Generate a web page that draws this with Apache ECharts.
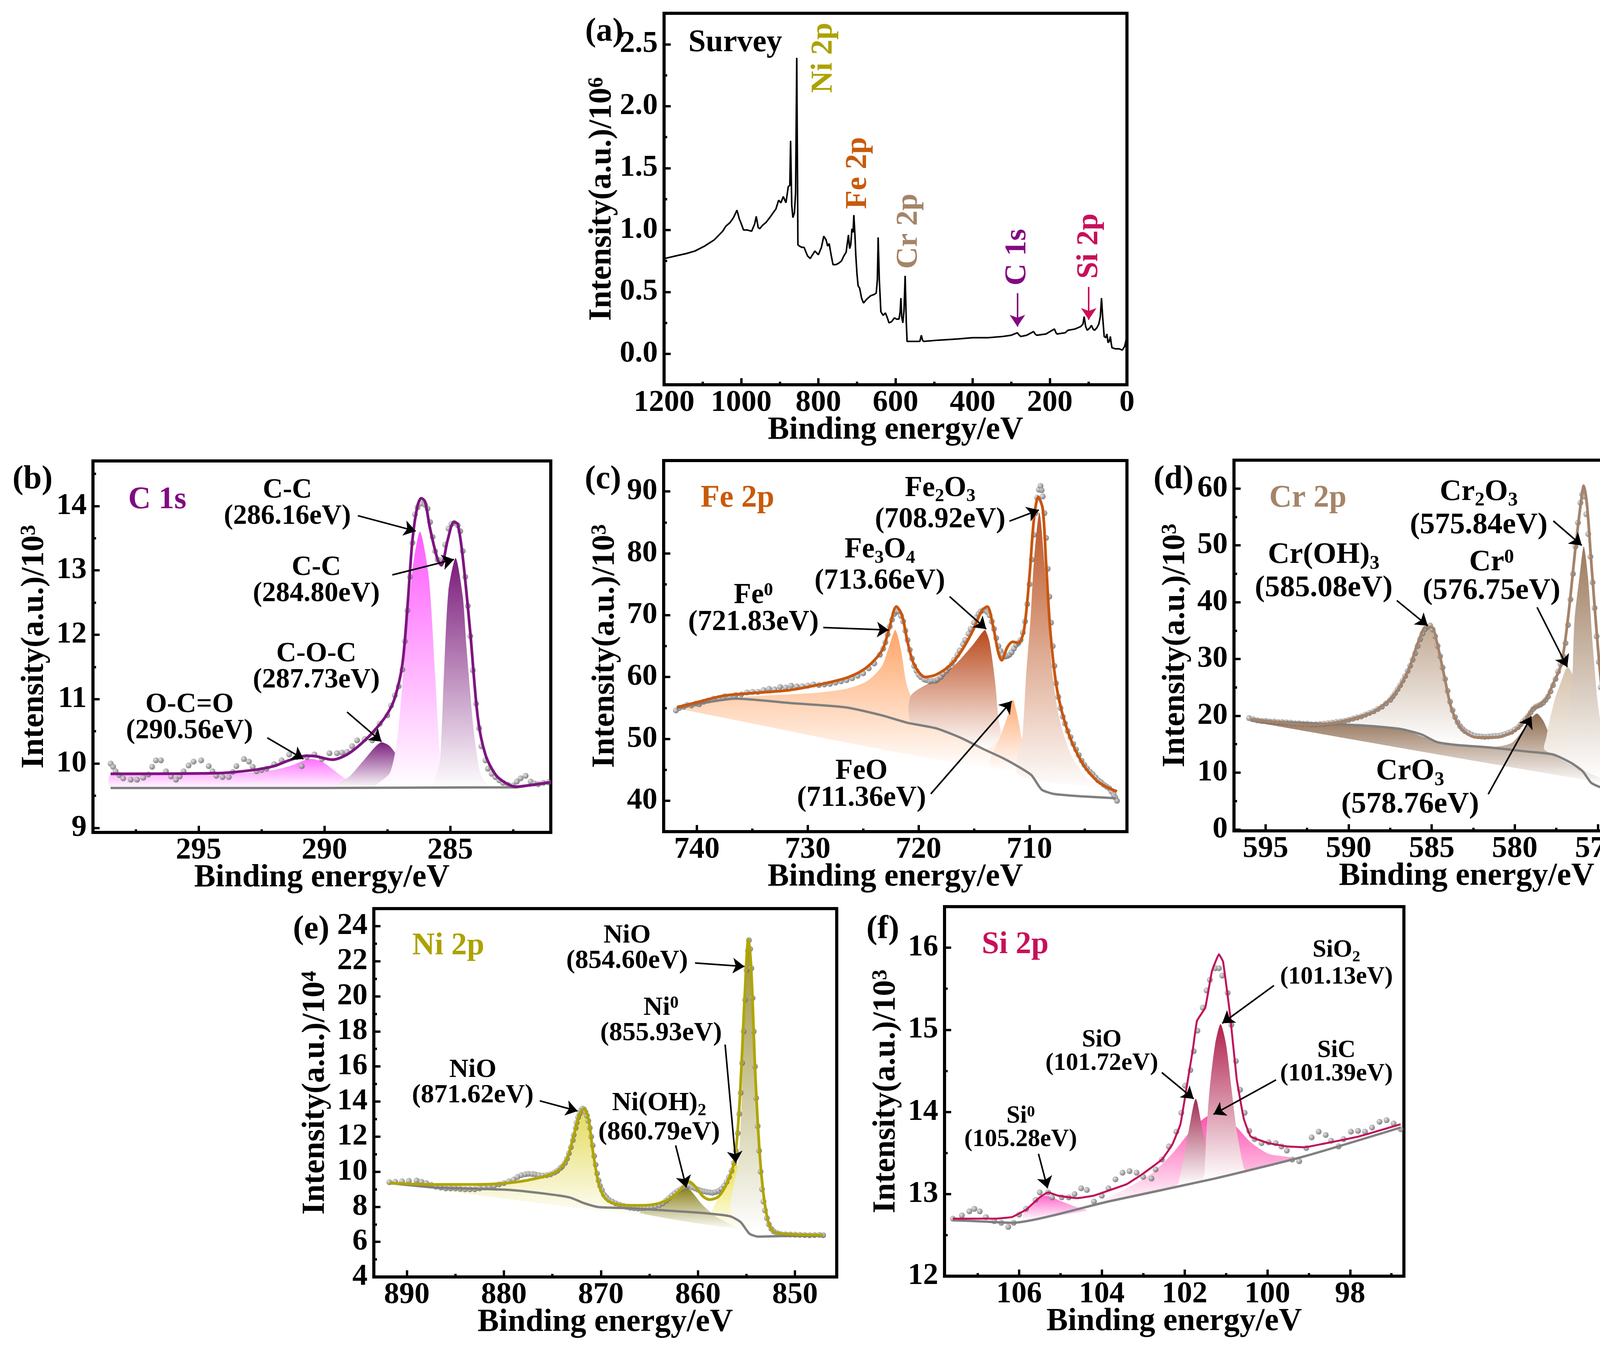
<!DOCTYPE html>
<html>
<head>
<meta charset="utf-8">
<script src="https://cdn.jsdelivr.net/npm/echarts@6/dist/echarts.min.js"></script>
<style>
html, body { margin: 0; padding: 0; background: #fff; }
#chart { width: 4386px; height: 3456px; }
</style>
</head>
<body>
<div id="chart"></div>
<script>
const FONT = 'Liberation Serif';

// ---------- (a) survey ----------
const surveyData = [[1198,0.77],[1170,0.79],[1142,0.81],[1120,0.83],[1095,0.87],[1070,0.92],[1048,0.99],[1040,1.03],[1029,1.06],[1020,1.10],[1011,1.16],[1005,1.09],[1001,1.06],[994,1.0],[985,1.0],[973,0.99],[965,1.05],[961,1.11],[956,1.02],[952,1.01],[944,1.04],[936,1.06],[926,1.10],[917,1.14],[910,1.17],[903,1.24],[897,1.22],[891,1.27],[884,1.22],[878,1.35],[874,1.36],[872,1.72],[869,1.20],[866,1.10],[862,1.14],[859,1.30],[856,2.39],[853,0.88],[849,0.87],[843,0.86],[837,0.86],[832,0.82],[828,0.79],[821,0.77],[815,0.80],[809,0.83],[800,0.80],[792,0.86],[786,0.95],[780,0.92],[776,0.87],[772,0.89],[767,0.80],[762,0.72],[755,0.72],[748,0.73],[740,0.75],[734,0.79],[728,0.82],[722,0.96],[719,0.85],[716,0.88],[713,1.01],[710,0.98],[708,1.12],[705,0.95],[703,0.80],[700,0.65],[697,0.55],[693,0.53],[688,0.45],[683,0.41],[675,0.44],[664,0.47],[655,0.48],[650,0.49],[647,0.60],[645,0.94],[642,0.60],[638,0.34],[632,0.31],[626,0.33],[620,0.28],[617,0.25],[610,0.26],[603,0.29],[597,0.28],[591,0.28],[588,0.34],[586,0.45],[584,0.30],[581,0.25],[578,0.35],[575,0.63],[572,0.25],[570,0.10],[555,0.10],[537,0.10],[533,0.15],[530,0.11],[527,0.10],[490,0.11],[439,0.12],[400,0.13],[360,0.13],[322,0.14],[300,0.15],[284,0.17],[279,0.15],[275,0.14],[260,0.15],[242,0.18],[238,0.16],[234,0.15],[210,0.16],[188,0.20],[184,0.17],[181,0.16],[160,0.17],[153,0.19],[135,0.20],[120,0.22],[114,0.24],[111,0.30],[107,0.22],[103,0.19],[96,0.21],[92,0.23],[88,0.20],[84,0.19],[78,0.21],[73,0.24],[69,0.30],[66,0.45],[63,0.30],[59,0.14],[55,0.13],[52,0.16],[49,0.09],[46,0.10],[43,0.14],[41,0.09],[39,0.05],[30,0.04],[20,0.04],[12,0.03],[6,0.06],[3,0.10],[0,0.16]];
const surveyTags = ['Survey', 'Ni 2p', 'Fe 2p', 'Cr 2p', 'C 1s', 'Si 2p'];
const surveyTagPos = [[1137,2.51],[786,2.39],[697,1.46],[565,0.99],[284,0.78],[97,0.87]];
const surveyTagColor = ['#000000','#aca200','#c85a0a','#a58468','#820a82','#c8105a'];
const surveyArrows = [[284,0.49,284,0.22],[99,0.54,99,0.275]];
const surveyArrowColor = ['#820a82','#c8105a'];

// ---------- (b) C 1s ----------
const c1sFit = [[298.5,9.84],[294.3,9.85],[292.8,9.9],[292.0,9.96],[291.4,10.05],[290.7,10.12],[290.3,10.11],[290.0,10.08],[289.7,10.06],[289.1,10.14],[288.5,10.32],[287.95,10.54],[287.5,10.77],[287.2,11.02],[286.9,11.54],[286.7,12.42],[286.5,13.47],[286.3,14.0],[286.15,14.12],[286.0,14.07],[285.8,13.65],[285.5,13.17],[285.35,13.08],[285.1,13.47],[284.85,13.75],[284.7,13.72],[284.5,13.21],[284.2,12.03],[283.9,10.71],[283.6,10.14],[283.2,9.83],[282.8,9.70],[282.4,9.64],[281.9,9.66],[281.0,9.71]];
const c1sBg = [[298.5,9.62],[290,9.62],[284,9.63],[282.4,9.63],[281.9,9.66],[281.0,9.71]];
const c1sDots = [[298.5,10.0],[298.4,9.95],[298.3,9.88],[298.15,9.82],[298.0,9.77],[297.7,9.75],[297.45,9.75],[297.2,9.78],[297.0,9.83],[296.85,9.95],[296.7,10.05],[296.5,10.05],[296.3,9.88],[296.1,9.8],[295.9,9.75],[295.75,9.8],[295.6,9.88],[295.4,9.97],[295.2,10.03],[294.9,10.05],[294.6,9.96],[294.45,9.88],[294.3,9.81],[294.05,9.79],[293.8,9.79],[293.65,9.87],[293.5,9.96],[293.2,10.07],[293.0,10.03],[292.85,9.95],[292.7,9.88],[292.5,9.9],[292.3,9.92],[292.0,9.99],[291.7,10.05],[291.4,10.14],[291.1,10.10],[290.9,9.96],[290.7,10.10],[290.4,10.14],[290.1,10.07],[289.8,10.16],[289.5,10.16],[289.3,10.17],[289.1,10.18],[288.9,10.27],[288.7,10.36],[288.4,10.38],[288.1,10.36],[287.95,10.5],[287.8,10.62],[287.5,10.75],[287.35,10.9],[287.2,11.06],[287.05,11.2],[286.9,11.46],[286.8,11.9],[286.7,12.38],[286.6,12.9],[286.5,13.43],[286.4,13.87],[286.3,13.98],[286.15,14.04],[286.0,14.02],[285.9,13.96],[285.8,13.75],[285.7,13.52],[285.6,13.3],[285.5,13.17],[285.4,13.14],[285.3,13.17],[285.2,13.4],[285.07,13.65],[284.95,13.72],[284.85,13.74],[284.7,13.7],[284.6,13.61],[284.5,13.3],[284.4,12.9],[284.3,12.45],[284.2,11.98],[284.1,11.45],[283.97,10.93],[283.85,10.55],[283.76,10.27],[283.6,10.05],[283.5,9.92],[283.35,9.84],[283.2,9.79],[283.05,9.74],[282.9,9.70],[282.7,9.67],[282.5,9.66],[282.35,9.72],[282.2,9.77],[282.0,9.81],[281.8,9.72],[281.65,9.69],[281.5,9.68],[281.3,9.7],[281.1,9.71]];
const c1sOCO = [[298.5,9.62],[298.5,9.82],[295,9.83],[293,9.86],[292,9.9],[291.3,9.97],[290.8,10.05],[290.5,10.07],[290.1,10.03],[289.7,9.92],[289.3,9.8],[288.9,9.7],[288.5,9.63]];
const c1sCOC = [[289.6,9.63],[289.0,9.8],[288.5,10.02],[288.0,10.25],[287.73,10.33],[287.4,10.27],[287.0,10.06],[286.6,9.84],[286.2,9.68],[286.0,9.63]];
const c1sCC1 = [[288.0,9.63],[287.4,9.85],[287.1,10.4],[286.8,11.7],[286.5,13.0],[286.2,13.6],[285.85,12.9],[285.6,11.4],[285.4,10.1],[285.2,9.7],[285.0,9.63]];
const c1sCC2 = [[285.6,9.63],[285.4,10.05],[285.25,11.37],[285.07,12.68],[284.78,13.19],[284.5,12.6],[284.35,11.8],[284.06,10.5],[283.8,9.85],[283.5,9.66],[283.3,9.63]];
const c1sColors = ['#ff70ff','#7b1f7b','#ff5cff','#7a1a7a'];
const c1sNotes = ['{n|C-C}\n{n|(286.16eV)}','{n|C-C}\n{n|(284.80eV)}','{n|C-O-C}\n{n|(287.73eV)}','{n|O-C=O}\n{n|(290.56eV)}'];
const c1sNotePos = [[291.47,14.05],[290.32,12.85],[290.32,11.51],[295.36,10.72]];
const c1sArrows = [[288.67,13.85,286.37,13.61],[287.3,12.93,284.85,13.17],[289.1,10.8,287.73,10.34],[292.27,10.4,290.83,10.07]];

// ---------- (c) Fe 2p ----------
const fe2pFit = [[741.8,55.1],[739.8,56.0],[737.5,57.0],[734.9,57.4],[731.6,57.9],[728.9,58.8],[726.3,60.0],[724.65,61.6],[723.3,64.3],[722.7,67.5],[722.0,71.4],[721.5,70.0],[721.0,65.7],[720.4,62.0],[719.4,60.0],[718.4,60.4],[717.1,62.0],[716.1,64.3],[715.1,67.5],[714.3,70.7],[713.8,71.4],[713.3,68.4],[712.8,63.9],[712.5,62.7],[712.0,64.8],[711.5,65.7],[711.0,65.5],[710.5,67.5],[710.0,76.2],[709.6,85.4],[709.2,89.1],[708.8,87.2],[708.5,78.5],[708.1,67.1],[707.5,57.9],[706.5,51.0],[705.2,46.0],[703.9,43.2],[702.9,42.1],[702.1,41.5]];
const fe2pBg = [[741.8,55.0],[736.5,56.5],[731.6,55.8],[726.6,55.1],[723.3,53.8],[721.0,52.6],[718.4,51.7],[716.1,50.1],[714.1,48.3],[712.4,46.9],[710.8,45.3],[709.8,44.1],[708.9,41.8],[707.8,41.1],[705.2,40.7],[702.2,40.4]];
const fe2pDots = [[741.9,54.6],[741.6,55.0],[741.2,55.2],[740.9,55.5],[740.5,55.4],[740.1,55.7],[739.8,55.6],[739.4,56.0],[739,56.2],[738.5,56.5],[738,56.6],[737.5,56.9],[737,56.8],[736.5,57.1],[736,57.2],[735.5,57.5],[735,57.6],[734.5,57.6],[734,57.9],[733.5,58.1],[733,58.0],[732.5,58.4],[732,58.3],[731.5,58.6],[731,58.5],[730.5,58.5],[730,58.6],[729.5,58.8],[729,58.7],[728.5,58.8],[728,58.9],[727.5,59.1],[727,59.3],[726.5,59.5],[726,59.8],[725.5,60.2],[725,60.6],[724.5,61.4],[724,62.2],[723.5,63.6],[723.2,64.6],[723,65.6],[722.8,66.9],[722.6,68.2],[722.4,69.3],[722.2,70.2],[722.0,70.6],[721.8,70.6],[721.6,69.9],[721.4,69.0],[721.2,67.5],[721.0,66.0],[720.8,64.4],[720.6,63.0],[720.4,61.8],[720.2,61.0],[720.0,60.4],[719.8,60.0],[719.5,59.6],[719.3,59.5],[719.0,59.3],[718.8,59.4],[718.5,59.4],[718.3,59.6],[718.0,60.0],[717.8,60.5],[717.5,61.0],[717.3,61.5],[717.0,62.2],[716.8,62.8],[716.5,63.6],[716.3,64.3],[716.0,65.3],[715.8,66.0],[715.5,67.0],[715.3,67.8],[715.0,68.8],[714.8,69.6],[714.6,70.2],[714.4,70.6],[714.2,70.8],[714.0,70.8],[713.8,70.5],[713.6,70.0],[713.4,69.0],[713.2,67.8],[713.0,66.3],[712.8,65.0],[712.6,64.2],[712.4,63.6],[712.2,63.3],[712.0,63.4],[711.8,63.6],[711.6,64.0],[711.4,64.6],[711.2,65.2],[711.0,65.5],[710.8,66.0],[710.6,67.2],[710.4,69.0],[710.2,71.8],[710.0,75.0],[709.8,79.0],[709.6,83.0],[709.45,86.5],[709.3,89.0],[709.15,90.3],[709.0,90.9],[708.9,90.2],[708.8,89.2],[708.65,86.5],[708.5,82.5],[708.35,77.5],[708.2,73.0],[708.05,68.8],[707.9,65.0],[707.75,61.8],[707.6,59.0],[707.4,56.8],[707.2,55.0],[707.0,53.6],[706.8,52.5],[706.55,51.3],[706.3,50.3],[706.05,49.2],[705.8,48.3],[705.55,47.4],[705.3,46.5],[705.05,45.8],[704.8,45.2],[704.55,44.7],[704.3,44.3],[704.05,43.8],[703.8,43.3],[703.55,43.0],[703.3,42.6],[703.05,42.3],[702.8,42.0],[702.6,41.5],[702.4,41.0],[702.25,40.5],[702.1,40.0]];
const fe2pFe0 = [[741.8,54.9],[741.8,55.1],[739.8,55.8],[737.5,56.5],[734.9,56.9],[731.6,57.2],[728.9,57.5],[726.3,58.2],[724.6,59.4],[723.3,61.8],[722.6,65.3],[722.1,67.6],[721.6,64.5],[721.1,59.0],[720.5,56.2],[719.5,54.6],[717,53.0],[714,51.5],[712,50.2],[712,45.1]];
const fe2pFe3O4 = [[720.7,57.0],[718.4,59.7],[716.7,62.0],[715.1,65.2],[714.3,67.1],[714.0,67.6],[713.6,65.7],[713.1,59.3],[712.8,53.3],[712.6,50.2],[714.1,48.3],[716.1,50.1],[718.4,51.7],[720.7,52.8]];
const fe2pFeO = [[713.6,45.6],[712.6,50.5],[712.0,53.5],[711.5,56.3],[711.0,53.0],[710.5,48.0],[710.0,44.9]];
const fe2pFe2O3 = [[711.0,44.2],[710.6,51.0],[710.3,60.2],[709.9,69.4],[709.6,78.5],[709.1,86.6],[708.65,78.5],[708.3,69.4],[707.9,60.2],[707.3,53.3],[706.2,47.3],[704.5,43.2],[702.2,41.4],[702.2,41.9]];
const fe2pColors = ['#ffa466','#b8481a','#ffab74','#bc5524'];
const fe2pNotes = ['{n|Fe}{s|2}{n|O}{s|3}\n{n|(708.92eV)}','{n|Fe}{s|3}{n|O}{s|4}\n{n|(713.66eV)}','{n|Fe}{u|0}\n{n|(721.83eV)}','{n|FeO}\n{n|(711.36eV)}'];
const fe2pNotePos = [[718.05,88.07],[723.5,78.1],[734.9,71.1],[725.15,42.66]];
const fe2pArrows = [[711.8,85.2,709.15,87.0],[717.2,73.0,713.9,67.75],[728.6,68.0,722.7,67.6],[718.9,41.1,711.6,56.1]];

// ---------- (d) Cr 2p ----------
const cr2pFit = [[595.9,19.4],[594.6,19.0],[592.4,18.4],[590.8,18.8],[589.5,19.7],[588.4,20.9],[587.3,23.6],[586.4,28.1],[585.8,33.1],[585.35,35.6],[585.0,35.6],[584.7,33.1],[584.25,27.1],[583.8,21.2],[583.2,17.7],[582.3,16.2],[581.2,16.2],[580.1,17.2],[579.4,19.2],[578.9,21.4],[578.55,21.9],[578.1,23.1],[577.7,25.6],[577.2,29.1],[576.8,37.1],[576.35,49.5],[576.0,58.0],[575.85,60.5],[575.65,57.0],[575.4,47.1],[575.0,32.1],[574.6,19.7],[574.2,11.2],[573.7,8.2],[572.85,7.6],[571.5,7.5],[570.0,7.2]];
const cr2pBg = [[595.9,19.15],[592.4,18.7],[589.1,18.3],[586.9,17.7],[585.6,16.7],[584.7,15.4],[583.6,14.9],[581.4,14.4],[579.2,13.7],[577.7,13.2],[576.6,11.7],[575.9,10.2],[575.4,8.2],[574.6,7.2],[573.1,7.0],[570.0,6.9]];
const cr2pDots = [[596.0,19.6],[595.75,19.4],[595.5,19.2],[595.25,19.1],[595,19.1],[594.75,19.0],[594.5,19.0],[594.25,18.9],[594,18.9],[593.75,18.85],[593.5,18.8],[593.25,18.7],[593,18.7],[592.75,18.6],[592.5,18.6],[592.25,18.5],[592,18.5],[591.75,18.55],[591.5,18.6],[591.25,18.7],[591,18.8],[590.75,18.9],[590.5,19.0],[590.25,19.1],[590,19.3],[589.75,19.5],[589.5,19.7],[589.25,19.9],[589,20.2],[588.75,20.5],[588.5,20.8],[588.25,21.2],[588,21.6],[587.75,22.2],[587.5,22.8],[587.35,23.4],[587.2,24.0],[587.05,24.7],[586.9,25.4],[586.75,26.2],[586.6,27.0],[586.45,27.9],[586.3,28.8],[586.15,29.9],[586.0,31.0],[585.85,32.3],[585.7,33.5],[585.55,34.5],[585.4,35.3],[585.25,35.7],[585.1,35.9],[584.95,35.2],[584.8,34.0],[584.65,32.3],[584.5,30.5],[584.35,28.5],[584.2,26.5],[584.05,24.4],[583.9,22.5],[583.75,21.0],[583.6,19.8],[583.45,18.9],[583.3,18.2],[583.15,17.7],[583.0,17.3],[582.8,17.0],[582.6,16.7],[582.4,16.5],[582.2,16.4],[582.0,16.35],[581.8,16.3],[581.6,16.35],[581.4,16.4],[581.2,16.45],[581.0,16.5],[580.8,16.6],[580.6,16.8],[580.4,17.0],[580.2,17.2],[580.0,17.6],[579.8,18.0],[579.65,18.5],[579.5,19.0],[579.35,19.5],[579.2,20.0],[579.05,20.6],[578.9,21.2],[578.75,21.6],[578.6,21.8],[578.45,22.0],[578.3,22.3],[578.15,22.8],[578.0,23.4],[577.85,24.3],[577.7,25.4],[577.55,26.5],[577.4,27.8],[577.25,29.1],[577.1,30.5],[576.95,32.8],[576.8,36.0],[576.65,40.5],[576.5,45.0],[576.35,49.8],[576.2,54.0],[576.05,57.5],[575.95,59.0],[575.82,58.6],[575.7,55.5],[575.58,52.0],[575.45,48.0],[575.32,43.5],[575.2,39.0],[575.08,34.0],[574.95,29.5],[574.82,25.0],[574.7,21.0],[574.57,17.2],[574.45,14.0],[574.32,12.0],[574.2,10.5],[574.05,9.3],[573.9,8.5],[573.7,8.1],[573.5,7.9],[573.25,7.8],[573,7.7],[572.75,7.65],[572.5,7.6],[572.25,7.55],[572,7.5],[571.75,7.5],[571.5,7.5],[571.25,7.45],[571,7.4],[570.75,7.35],[570.5,7.3],[570.3,7.2],[570.1,7.0]];
const cr2pOH = [[590.8,18.5],[589.5,19.5],[588.4,20.7],[587.3,23.4],[586.4,27.9],[585.8,33.0],[585.13,35.85],[584.7,33.0],[584.25,27.0],[583.8,21.0],[583.2,17.5],[582.5,16.0],[582.0,15.5],[584.0,14.9],[586.9,17.7],[589.1,18.3]];
const cr2pCrO3 = [[595.9,19.0],[595.9,19.15],[592.4,18.7],[589.1,18.3],[586.9,17.7],[585.6,16.7],[584.7,15.4],[583.6,14.9],[581.4,14.5],[580.2,15.2],[579.5,17.5],[579.0,19.6],[578.66,20.4],[578.3,19.2],[578.0,17.3],[577.5,14.4],[576.8,12.6],[576.0,11.4],[575.0,10.5],[574.5,9.0],[574.0,7.9]];
const cr2pCr0 = [[578.2,14.0],[578.1,16.2],[577.9,19.2],[577.57,23.1],[577.2,26.1],[576.84,28.6],[576.5,27.1],[576.1,22.1],[575.7,17.2],[575.0,12.2],[574.6,9.7],[574.4,8.5]];
const cr2pCr2O3 = [[576.6,13.0],[576.5,29.1],[576.4,37.1],[576.1,44.6],[575.85,49.8],[575.6,44.6],[575.3,32.1],[575.0,22.1],[574.6,14.7],[574.3,10.7],[574.2,9.0]];
const cr2pColors = ['#8c684c','#c2aa94','#d6c2ac','#9c7a5c'];
const cr2pNotes = ['{n|Cr}{s|2}{n|O}{s|3}\n{n|(575.84eV)}','{n|Cr(OH)}{s|3}\n{n|(585.08eV)}','{n|Cr}{u|0}\n{n|(576.75eV)}','{n|CrO}{s|3}\n{n|(578.76eV)}'];
const cr2pNotePos = [[582.17,56.6],[591.5,45.5],[581.4,44.6],[586.3,7.4]];
const cr2pArrows = [[577.68,54.3,575.97,50.0],[587.1,40.3,585.24,35.85],[578.66,39.1,576.84,28.6],[581.6,6.2,579.0,19.9]];

// ---------- (e) Ni 2p ----------
const ni2pFit = [[891.8,9.35],[889.6,9.30],[887.1,9.27],[883.4,9.27],[879.7,9.35],[876.8,9.60],[874.6,10.0],[873.5,10.75],[872.8,12.07],[872.2,13.3],[871.75,13.58],[871.3,13.05],[870.8,11.08],[870.2,9.27],[869.5,8.44],[868.0,8.11],[865.8,8.08],[864.0,8.2],[862.5,8.6],[861.6,9.1],[860.9,9.43],[860.2,9.1],[859.5,8.6],[858.8,8.41],[857.85,8.6],[856.95,9.43],[856.2,10.75],[855.7,14.04],[855.2,19.8],[854.8,23.26],[854.5,21.45],[854.1,15.7],[853.6,10.75],[853.0,7.79],[852.3,6.63],[850.5,6.44],[847.1,6.39]];
const ni2pBg = [[891.8,9.35],[887.1,9.1],[879.7,8.97],[876.1,8.77],[873.2,8.53],[871.7,8.2],[870.2,7.98],[866.9,7.92],[863.3,7.79],[859.6,7.65],[856.7,7.46],[855.6,7.13],[854.7,6.47],[853.8,6.3],[850.5,6.34],[847.1,6.34]];
const ni2pDots = [[891.8,9.4],[891.2,9.42],[890.5,9.45],[889.8,9.48],[889,9.5],[888.5,9.42],[888,9.35],[887.5,9.25],[887,9.15],[886.5,9.1],[886,9.05],[885.5,9.05],[885,9.05],[884.5,9.02],[884,9.0],[883.5,9.0],[883,9.0],[882.5,9.05],[882,9.1],[881.5,9.15],[881,9.2],[880.5,9.28],[880,9.35],[879.5,9.45],[879,9.55],[878.6,9.7],[878.2,9.8],[877.8,9.85],[877.5,9.88],[877.1,9.87],[876.8,9.85],[876.4,9.8],[876,9.78],[875.6,9.8],[875.2,9.85],[874.8,9.95],[874.5,10.05],[874.2,10.2],[874,10.3],[873.7,10.5],[873.5,10.75],[873.3,11.05],[873.1,11.4],[872.9,11.8],[872.8,12.1],[872.6,12.5],[872.5,12.8],[872.35,13.1],[872.2,13.3],[872.05,13.5],[871.9,13.6],[871.75,13.55],[871.6,13.4],[871.45,13.2],[871.3,12.9],[871.15,12.5],[871.0,12.0],[870.85,11.5],[870.7,10.9],[870.55,10.4],[870.4,9.9],[870.25,9.5],[870.1,9.2],[869.9,8.95],[869.7,8.7],[869.45,8.55],[869.2,8.4],[868.85,8.3],[868.5,8.2],[868.1,8.12],[867.7,8.05],[867.35,8.0],[867,7.95],[866.6,7.92],[866.2,7.9],[865.85,7.9],[865.5,7.92],[865.15,7.95],[864.8,7.98],[864.4,8.04],[864,8.1],[863.65,8.2],[863.3,8.35],[863.0,8.5],[862.7,8.65],[862.4,8.78],[862.1,8.9],[861.8,9.0],[861.5,9.1],[861.2,9.16],[860.9,9.2],[860.6,9.12],[860.3,9.05],[860.0,8.98],[859.7,8.92],[859.4,8.88],[859.1,8.85],[858.8,8.82],[858.5,8.8],[858.2,8.84],[857.9,8.9],[857.6,9.02],[857.3,9.2],[857.05,9.42],[856.8,9.7],[856.55,10.05],[856.3,10.5],[856.1,11.2],[855.9,12.2],[855.75,13.3],[855.6,14.5],[855.45,16.2],[855.3,18.0],[855.15,19.8],[855.0,21.5],[854.85,22.6],[854.75,23.2],[854.62,22.7],[854.5,21.6],[854.37,19.9],[854.25,18.0],[854.12,16.0],[854.0,14.2],[853.85,12.6],[853.7,11.2],[853.55,10.0],[853.4,9.0],[853.25,8.3],[853.1,7.8],[852.9,7.35],[852.7,7.0],[852.45,6.75],[852.2,6.6],[851.85,6.5],[851.5,6.45],[851.0,6.43],[850.5,6.42],[850.0,6.41],[849.5,6.4],[849.0,6.39],[848.5,6.38],[848.0,6.39],[847.5,6.4],[847.1,6.38]];
const ni2pNiO2 = [[891.8,9.35],[885,9.2],[880,9.25],[877,9.5],[875,9.9],[873.7,10.6],[872.9,11.9],[872.3,13.2],[871.9,13.55],[871.5,13.1],[871.0,11.5],[870.5,9.8],[869.8,8.8],[868.5,8.2],[866,7.9],[862,7.25]];
const ni2pOH = [[866,7.65],[864,7.95],[862.8,8.45],[861.7,8.9],[861.0,9.05],[860.4,8.7],[859.6,8.15],[858.5,7.6],[857,7.1],[855.5,6.7]];
const ni2pNi0 = [[858.5,7.6],[857.8,8.6],[856.85,9.6],[856.2,10.75],[855.7,9.76],[855.15,8.28],[854.6,6.96],[854.5,6.6]];
const ni2pNiO1 = [[856.5,7.5],[855.8,10.75],[855.5,14.0],[855.3,17.3],[855.0,20.6],[854.75,23.1],[854.4,20.6],[854.2,17.3],[853.9,14.0],[853.6,10.75],[853.2,8.28],[852.6,6.96],[852.3,6.5]];
const ni2pColors = ['#e4da5a','#8c8420','#eae040','#9a9038'];
const ni2pNotes = ['{n|NiO}\n{n|(854.60eV)}','{n|Ni}{u|0}\n{n|(855.93eV)}','{n|NiO}\n{n|(871.62eV)}','{n|Ni(OH)}{s|2}\n{n|(860.79eV)}'];
const ni2pNotePos = [[867.3,22.77],[863.8,18.65],[883.2,15.1],[864.0,13.1]];
const ni2pArrows = [[860.3,21.9,855.2,21.7],[857.2,17.25,856.1,10.5],[876.3,14.04,872.4,13.46],[862.3,11.5,861.2,9.1]];

// ---------- (f) Si 2p ----------
const si2pFit = [[107.6,12.70],[107.1,12.70],[106.6,12.70],[106.17,12.72],[105.83,12.81],[105.5,12.96],[105.3,13.02],[105.05,12.98],[104.6,12.95],[104.2,12.98],[103.85,13.04],[103.4,13.12],[103.0,13.25],[102.55,13.42],[102.3,13.6],[102.1,13.85],[101.95,14.3],[101.8,14.76],[101.7,15.11],[101.5,15.27],[101.34,15.71],[101.17,15.92],[101.07,15.83],[100.9,15.18],[100.74,14.4],[100.57,13.92],[100.4,13.7],[99.97,13.62],[99.53,13.58],[99.1,13.57],[98.67,13.61],[97.8,13.7],[96.78,13.85]];
const si2pBg = [[107.6,12.68],[107.03,12.67],[106.17,12.65],[103.84,12.91],[101.26,13.19],[99.1,13.46],[96.78,13.81]];
const si2pDots = [[107.6,12.7],[107.38,12.74],[107.2,12.79],[107.08,12.82],[106.95,12.79],[106.8,12.72],[106.6,12.67],[106.43,12.65],[106.26,12.6],[106.13,12.65],[106.0,12.75],[105.83,12.82],[105.6,12.93],[105.5,13.02],[105.3,13.02],[105.2,12.96],[104.97,12.96],[104.8,12.96],[104.66,13.0],[104.5,13.07],[104.36,13.05],[104.19,12.91],[104.0,12.98],[103.84,13.07],[103.67,13.18],[103.5,13.26],[103.33,13.28],[103.16,13.26],[103.0,13.21],[102.8,13.19],[102.7,13.3],[102.55,13.42],[102.38,13.58],[102.2,13.76],[102.08,13.99],[101.99,14.32],[101.86,14.51],[101.78,14.74],[101.69,14.99],[101.56,15.27],[101.47,15.48],[101.39,15.61],[101.26,15.75],[101.17,15.75],[101.09,15.66],[100.96,15.45],[100.87,15.06],[100.76,14.62],[100.66,14.27],[100.55,13.99],[100.44,13.77],[100.31,13.67],[100.14,13.62],[99.97,13.63],[99.8,13.62],[99.66,13.58],[99.53,13.53],[99.4,13.42],[99.23,13.4],[99.06,13.56],[98.93,13.69],[98.76,13.76],[98.59,13.72],[98.46,13.65],[98.28,13.58],[98.16,13.67],[97.98,13.76],[97.81,13.77],[97.64,13.76],[97.47,13.81],[97.29,13.88],[97.12,13.9],[96.95,13.86],[96.78,13.79]];
const si2pSi0 = [[105.9,12.68],[105.87,12.79],[105.66,12.89],[105.35,12.98],[104.97,12.91],[104.6,12.84],[104.36,12.8]];
const si2pSiC = [[104.2,12.86],[103.4,13.07],[102.8,13.25],[102.3,13.49],[101.78,13.81],[101.34,13.97],[100.82,13.85],[100.4,13.63],[99.97,13.49],[99.36,13.43]];
const si2pSiO = [[102.25,13.1],[102.16,13.12],[102.03,13.42],[101.9,13.77],[101.73,14.16],[101.56,13.77],[101.39,13.42],[101.2,13.25],[101.1,13.2]];
const si2pSiO2 = [[101.55,13.17],[101.52,13.25],[101.47,13.77],[101.39,14.3],[101.26,14.83],[101.13,15.07],[101.0,14.83],[100.87,14.3],[100.74,13.77],[100.57,13.32],[100.5,13.25]];
const si2pColors = ['#ff66cc','#ff4fb0','#a02c50','#b0224e'];
const si2pNotes = ['{n|SiO}{s|2}\n{n|(101.13eV)}','{n|SiC}\n{n|(101.39eV)}','{n|SiO}\n{n|(101.72eV)}','{n|Si}{u|0}\n{n|(105.28eV)}'];
const si2pNotePos = [[98.33,15.81],[98.33,14.61],[104.0,14.74],[105.96,13.81]];
const si2pArrows = [[99.84,15.54,101.09,15.08],[99.79,14.39,101.3,13.97],[102.55,14.48,101.78,14.16],[105.53,13.49,105.31,13.07]];

// panel names inside the boxes
const panelNames = ['C 1s','Fe 2p','Cr 2p','Ni 2p','Si 2p'];
const panelNamePos = [[297.8,14.09],[739.67,88.85],[594.78,58.26],[889.45,22.85],[106.9,16.03]];
const panelNameColor = ['#820a82','#c85a0a','#a58468','#aca200','#c8105a'];

// ticks
const aXMaj = [0,200,400,600,800,1000,1200], aXMin = [100,300,500,700,900,1100];
const aYMaj = [0,0.5,1,1.5,2,2.5], aYMin = [-0.25,0.25,0.75,1.25,1.75,2.25];
const bXMaj = [285,290,295], bXMin = [282.5,287.5,292.5,297.5];
const bYMaj = [9,10,11,12,13,14], bYMin = [9.5,10.5,11.5,12.5,13.5,14.5];
const cXMaj = [710,720,730,740], cXMin = [705,715,725,735];
const cYMaj = [40,50,60,70,80,90], cYMin = [45,55,65,75,85];
const dXMaj = [570,575,580,585,590,595], dXMin = [572.5,577.5,582.5,587.5,592.5];
const dYMaj = [0,10,20,30,40,50,60], dYMin = [5,15,25,35,45,55];
const eXMaj = [850,860,870,880,890], eXMin = [855,865,875,885];
const eYMaj = [4,6,8,10,12,14,16,18,20,22,24], eYMin = [5,7,9,11,13,15,17,19,21,23];
const fXMaj = [98,100,102,104,106], fXMin = [97,99,101,103,105,107];
const fYMaj = [12,13,14,15,16], fYMin = [12.5,13.5,14.5,15.5];

const panels = [
  {box:[1700,34,1185,951], x:[0,1200], y:[-0.25,2.75], xMaj:aXMaj, xMin:aXMin, yMaj:aYMaj, yMin:aYMin, dec:1, exp:'6', letter:'(a)', lpos:[1498,40]},
  {box:[238,1180,1172,951], x:[281,299.2], y:[8.93,14.7], xMaj:bXMaj, xMin:bXMin, yMaj:bYMaj, yMin:bYMin, dec:0, exp:'3', letter:'(b)', lpos:[32,1186]},
  {box:[1699,1179,1186,950], x:[701.2,743], y:[35,95], xMaj:cXMaj, xMin:cXMin, yMaj:cYMaj, yMin:cYMin, dec:0, exp:'3', letter:'(c)', lpos:[1497,1186]},
  {box:[3159,1178,1191,949], x:[568.9,596.9], y:[-0.25,65], xMaj:dXMaj, xMin:dXMin, yMaj:dYMaj, yMin:dYMin, dec:0, exp:'3', letter:'(d)', lpos:[2953,1186]},
  {box:[957,2326,1185,943], x:[845.7,893.4], y:[4,25], xMaj:eXMaj, xMin:eXMin, yMaj:eYMaj, yMin:eYMin, dec:0, exp:'4', letter:'(e)', lpos:[750,2338]},
  {box:[2418,2321,1176,946], x:[96.7,107.8], y:[12,16.5], xMaj:fXMaj, xMin:fXMin, yMaj:fYMaj, yMin:fYMin, dec:0, exp:'3', letter:'(f)', lpos:[2218,2338]}
];

const axisFont = {fontFamily: FONT, fontWeight: 'bold', fontSize: 78, color: '#000'};
const titleFont = {fontFamily: FONT, fontWeight: 'bold', fontSize: 82, color: '#000'};
const grids = [], xAxes = [], yAxes = [], series = [], titles = [];

panels.forEach((p, i) => {
  grids.push({left: p.box[0], top: p.box[1], width: p.box[2], height: p.box[3],
    show: true, borderColor: '#000', borderWidth: 8, backgroundColor: '#fff'});
  const base = {gridIndex: i, type: 'value', splitLine: {show: false}};
  const tickStyle = {color: '#000', width: 6};
  xAxes.push(Object.assign({}, base, {
    position: 'bottom', inverse: true, min: p.x[0], max: p.x[1],
    axisLine: {show: true, onZero: false, lineStyle: {color: '#000', width: 8}},
    axisTick: {show: true, inside: true, length: 17, lineStyle: tickStyle, customValues: p.xMaj},
    axisLabel: Object.assign({show: true, customValues: p.xMaj, margin: 8, formatter: v => String(v)}, axisFont),
    name: 'Binding energy/eV', nameLocation: 'middle', nameGap: 76, nameMoveOverlap: false,
    nameTextStyle: Object.assign({}, titleFont)
  }));
  xAxes.push(Object.assign({}, base, {
    position: 'bottom', inverse: true, min: p.x[0], max: p.x[1],
    axisLine: {show: false, onZero: false},
    axisTick: {show: true, inside: true, length: 8, lineStyle: tickStyle, customValues: p.xMin},
    axisLabel: {show: false}
  }));
  yAxes.push(Object.assign({}, base, {
    position: 'left', min: p.y[0], max: p.y[1],
    axisLine: {show: true, onZero: false, lineStyle: {color: '#000', width: 8}},
    axisTick: {show: true, inside: true, length: 17, lineStyle: tickStyle, customValues: p.yMaj},
    axisLabel: Object.assign({show: true, customValues: p.yMaj, margin: 16,
      formatter: v => v.toFixed(p.dec)}, axisFont),
    name: 'Intensity(a.u.)/10{u|' + p.exp + '}', nameLocation: 'middle', nameRotate: 90, nameGap: 108,
    nameTextStyle: Object.assign({}, titleFont, {lineHeight: 82,
      rich: {u: Object.assign({}, titleFont, {fontSize: 54, lineHeight: 44, verticalAlign: 'top'})}})
  }));
  yAxes.push(Object.assign({}, base, {
    position: 'left', min: p.y[0], max: p.y[1],
    axisLine: {show: false, onZero: false},
    axisTick: {show: true, inside: true, length: 8, lineStyle: tickStyle, customValues: p.yMin},
    axisLabel: {show: false}
  }));
  titles.push({text: p.letter, left: p.lpos[0], top: p.lpos[1], padding: 0,
    textStyle: Object.assign({}, titleFont, {fontSize: 84})});
});

function fade(c) {
  return new echarts.graphic.LinearGradient(0, 0, 0, 1, [
    {offset: 0, color: c}, {offset: 1, color: '#ffffff'}]);
}

function addLine(i, data, color, width, smooth) {
  series.push({type: 'line', xAxisIndex: 2 * i, yAxisIndex: 2 * i, data: data,
    symbol: 'none', showSymbol: false, smooth: smooth, silent: true, clip: true,
    lineStyle: {color: color, width: width}, z: 4});
}

function addAreas(i, comps, colors) {
  series.push({type: 'custom', xAxisIndex: 2 * i, yAxisIndex: 2 * i, clip: true, silent: true, z: 1,
    data: comps.map(c => c[0]),
    renderItem(params, api) {
      const pts = comps[params.dataIndex].map(pt => api.coord(pt));
      return {type: 'polygon', shape: {points: pts, smooth: 0.25},
        style: {fill: fade(colors[params.dataIndex]), stroke: null}};
    }});
}

function addDots(i, data) {
  series.push({type: 'scatter', xAxisIndex: 2 * i, yAxisIndex: 2 * i, data: data,
    symbolSize: 15, silent: true, z: 3,
    itemStyle: {color: new echarts.graphic.RadialGradient(0.35, 0.35, 0.7, [
      {offset: 0, color: '#dedede'}, {offset: 1, color: '#5a5a5a'}])}});
}

function noteRich(fs) {
  return {
    n: {fontFamily: FONT, fontWeight: 'bold', fontSize: fs, lineHeight: Math.round(fs * 0.95),
      verticalAlign: 'top', color: '#000'},
    s: {fontFamily: FONT, fontWeight: 'bold', fontSize: Math.round(fs * 0.65),
      lineHeight: Math.round(fs * 1.1), verticalAlign: 'bottom', color: '#000'},
    u: {fontFamily: FONT, fontWeight: 'bold', fontSize: Math.round(fs * 0.65),
      lineHeight: Math.round(fs * 0.5), verticalAlign: 'top', color: '#000'}
  };
}

function addNotes(i, texts, pos, itemLabels, arrows, arrowColors, fs) {
  series.push({type: 'scatter', xAxisIndex: 2 * i, yAxisIndex: 2 * i, silent: true, z: 6,
    symbolSize: 1, itemStyle: {color: 'rgba(0,0,0,0)'},
    data: pos.map((pt, k) => ({value: pt, label: itemLabels ? itemLabels[k] : {}})),
    label: {show: true, opacity: 1, position: 'inside', align: 'center', verticalAlign: 'middle',
      fontFamily: FONT, fontWeight: 'bold', fontSize: fs, color: '#000',
      formatter: prm => texts[prm.dataIndex], rich: noteRich(fs)},
    markLine: {silent: true, symbol: ['none', 'arrow'], symbolSize: 30, animation: false,
      label: {show: false}, lineStyle: {color: '#000', width: 4, type: 'solid'},
      data: arrows.map((a, k) => [
        {coord: [a[0], a[1]], lineStyle: {color: arrowColors ? arrowColors[k] : '#000', width: 4, type: 'solid'}},
        {coord: [a[2], a[3]]}])}
  });
}

// (a)
addLine(0, surveyData, '#000', 4, false);
addNotes(0, surveyTags, surveyTagPos,
  surveyTags.map((t, k) => k === 0 ? {align: 'left', fontSize: 80, color: '#000', opacity: 1}
    : {rotate: 90, fontSize: 78, color: surveyTagColor[k], opacity: 1}),
  surveyArrows, surveyArrowColor, 76);

// (b)..(f)
const detail = [
  {fit: c1sFit, bg: c1sBg, dots: c1sDots, comps: [c1sOCO, c1sCOC, c1sCC1, c1sCC2], colors: c1sColors,
   color: '#7d1580', lw: 7, sm: 0.3, notes: c1sNotes, pos: c1sNotePos, arrows: c1sArrows, fs: 71},
  {fit: fe2pFit, bg: fe2pBg, dots: fe2pDots, comps: [fe2pFe0, fe2pFe3O4, fe2pFeO, fe2pFe2O3], colors: fe2pColors,
   color: '#c8560f', lw: 7, sm: 0.3, notes: fe2pNotes, pos: fe2pNotePos, arrows: fe2pArrows, fs: 73},
  {fit: cr2pFit, bg: cr2pBg, dots: cr2pDots, comps: [cr2pCrO3, cr2pOH, cr2pCr0, cr2pCr2O3], colors: cr2pColors,
   color: '#a5836a', lw: 7, sm: 0.3, notes: cr2pNotes, pos: cr2pNotePos, arrows: cr2pArrows, fs: 77},
  {fit: ni2pFit, bg: ni2pBg, dots: ni2pDots, comps: [ni2pNiO2, ni2pOH, ni2pNi0, ni2pNiO1], colors: ni2pColors,
   color: '#b0a500', lw: 7, sm: 0.3, notes: ni2pNotes, pos: ni2pNotePos, arrows: ni2pArrows, fs: 68},
  {fit: si2pFit, bg: si2pBg, dots: si2pDots, comps: [si2pSi0, si2pSiC, si2pSiO, si2pSiO2], colors: si2pColors,
   color: '#c0105a', lw: 5, sm: 0.1, notes: si2pNotes, pos: si2pNotePos, arrows: si2pArrows, fs: 63}
];

detail.forEach((d, k) => {
  const i = k + 1;
  addAreas(i, d.comps, d.colors);
  addLine(i, d.bg, '#7f7f7f', 6, 0.2);
  addDots(i, d.dots);
  addLine(i, d.fit, d.color, d.lw, d.sm);
  addNotes(i, d.notes.concat([panelNames[k]]), d.pos.concat([panelNamePos[k]]),
    d.pos.map(() => ({})).concat([{align: 'left', color: panelNameColor[k], fontSize: 80, opacity: 1}]),
    d.arrows, null, d.fs);
});

const chart = echarts.init(document.getElementById('chart'), null, {renderer: 'canvas', width: 4386, height: 3456});
chart.setOption({
  animation: false,
  backgroundColor: '#fff',
  title: titles,
  grid: grids,
  xAxis: xAxes,
  yAxis: yAxes,
  series: series
});
</script>
</body>
</html>
